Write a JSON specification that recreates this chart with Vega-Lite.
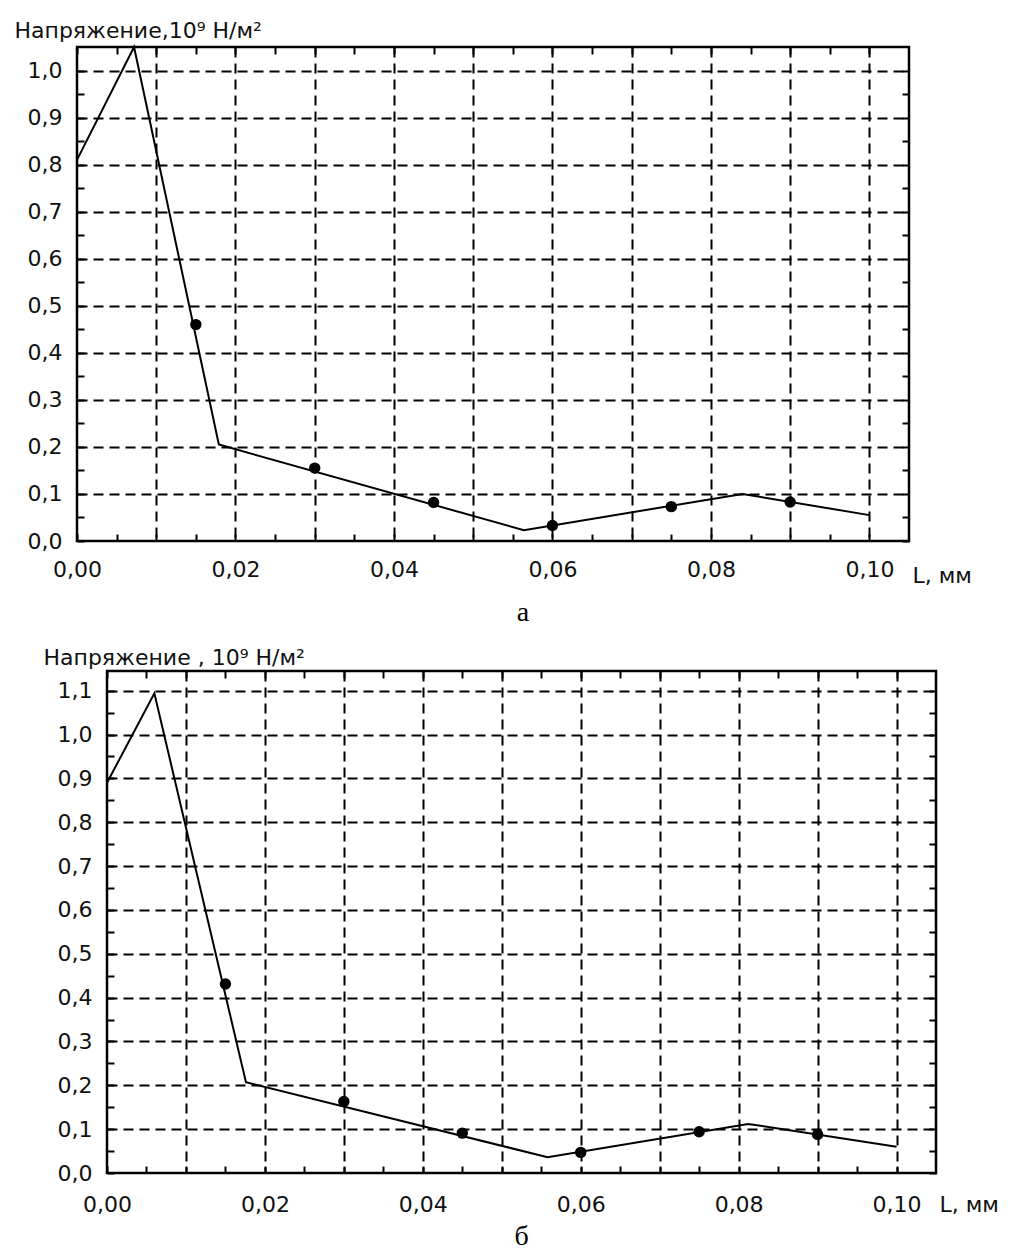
{
  "$schema": "https://vega.github.io/schema/vega-lite/v6.json",
  "padding": {"left": 11, "top": 17, "right": 0, "bottom": 0},
  "background": "white",
  "config": {
    "view": {"stroke": "black", "strokeWidth": 2.5},
    "font": "DejaVu Sans"
  },
  "datasets": {
    "a_line": [
      {"L": 0, "S": 0.81},
      {"L": 0.0072, "S": 1.05},
      {"L": 0.0179, "S": 0.205},
      {"L": 0.0564, "S": 0.023},
      {"L": 0.084, "S": 0.1},
      {"L": 0.1, "S": 0.055}
    ],
    "a_pts": [
      {"L": 0.015, "S": 0.46},
      {"L": 0.03, "S": 0.155},
      {"L": 0.045, "S": 0.082},
      {"L": 0.06, "S": 0.033},
      {"L": 0.075, "S": 0.073},
      {"L": 0.09, "S": 0.083}
    ],
    "b_line": [
      {"L": 0, "S": 0.89},
      {"L": 0.006, "S": 1.094},
      {"L": 0.0176, "S": 0.207},
      {"L": 0.0558, "S": 0.036},
      {"L": 0.0812, "S": 0.112},
      {"L": 0.1, "S": 0.06}
    ],
    "b_pts": [
      {"L": 0.015, "S": 0.431},
      {"L": 0.03, "S": 0.163},
      {"L": 0.045, "S": 0.091},
      {"L": 0.06, "S": 0.047},
      {"L": 0.075, "S": 0.094},
      {"L": 0.09, "S": 0.088}
    ]
  },
  "spacing": 15,
  "vconcat": [
    {
      "spacing": 0,
      "hconcat": [
        {
          "width": 1,
          "height": 10,
          "view": {"stroke": null},
          "data": {"values": []},
          "mark": "point"
        },
        {
          "width": 832,
          "height": 494,
          "title": {"text": "а", "orient": "bottom", "anchor": "middle", "dx": 30, "offset": 13, "font": "Liberation Serif", "fontSize": 28, "fontWeight": "normal", "color": "black"},
          "resolve": {"axis": {"x": "independent", "y": "independent"}},
          "layer": [
            {
              "data": {"name": "a_line"},
              "mark": {"type": "line", "color": "black", "strokeWidth": 2},
              "encoding": {
                "x": {"field": "L", "type": "quantitative",
                  "scale": {"domain": [0, 0.105], "nice": false, "zero": false},
                  "axis": {"orient": "bottom", "values": [0,0.005,0.01,0.015,0.02,0.025,0.03,0.035,0.04,0.045,0.05,0.055,0.06,0.065,0.07,0.075,0.08,0.085,0.09,0.095,0.1],
                    "domain": false, "grid": true, "gridColor": "black", "gridWidth": 2, "gridDash": [10, 6],
                    "gridOpacity": {"condition": {"test": "round(datum.value*200) % 2 == 0 && datum.value > 0", "value": 1}, "value": 0},
                    "ticks": true, "tickColor": "black", "tickWidth": 2, "tickSize": -7,
                    "labelExpr": "round(datum.value*1000) % 20 == 0 ? replace(format(datum.value, '.2f'), '.', ',') : ''",
                    "labelFont": "DejaVu Sans", "labelFontSize": 22, "labelColor": "#111", "labelPadding": 25,
                    "labelFlush": false, "labelOverlap": false, "labelBound": false,
                    "title": "L, мм", "titleX": 835, "titleY": 41, "titleAlign": "left", "titleBaseline": "alphabetic",
                    "titleFont": "DejaVu Sans", "titleFontSize": 22, "titleFontWeight": "normal", "titleColor": "#111"}},
                "y": {"field": "S", "type": "quantitative",
                  "scale": {"domain": [0, 1.05], "nice": false, "zero": false},
                  "axis": {"orient": "left", "values": [0,0.05,0.1,0.15,0.2,0.25,0.3,0.35,0.4,0.45,0.5,0.55,0.6,0.65,0.7,0.75,0.8,0.85,0.9,0.95,1.0],
                    "domain": false, "grid": true, "gridColor": "black", "gridWidth": 2, "gridDash": [10, 6],
                    "gridOpacity": {"condition": {"test": "round(datum.value*20) % 2 == 0 && datum.value > 0", "value": 1}, "value": 0},
                    "ticks": true, "tickColor": "black", "tickWidth": 2, "tickSize": -7,
                    "labelExpr": "round(datum.value*100) % 10 == 0 ? replace(format(datum.value, '.1f'), '.', ',') : ''",
                    "labelFont": "DejaVu Sans", "labelFontSize": 22, "labelColor": "#111", "labelPadding": 22,
                    "labelFlush": false, "labelOverlap": false, "labelBound": false,
                    "title": "Напряжение,10⁹ Н/м²", "titleAngle": 0, "titleX": -63, "titleY": -10, "titleAlign": "left", "titleBaseline": "alphabetic",
                    "titleFont": "DejaVu Sans", "titleFontSize": 22, "titleFontWeight": "normal", "titleColor": "#111"}}
              }
            },
            {
              "data": {"name": "a_pts"},
              "mark": {"type": "circle", "color": "black", "size": 130, "opacity": 1},
              "encoding": {
                "x": {"field": "L", "type": "quantitative",
                  "scale": {"domain": [0, 0.105], "nice": false, "zero": false},
                  "axis": {"orient": "top", "values": [0,0.005,0.01,0.015,0.02,0.025,0.03,0.035,0.04,0.045,0.05,0.055,0.06,0.065,0.07,0.075,0.08,0.085,0.09,0.095,0.1],
                    "domain": false, "grid": false, "labels": false, "title": null,
                    "ticks": true, "tickColor": "black", "tickWidth": 2, "tickSize": -7}},
                "y": {"field": "S", "type": "quantitative",
                  "scale": {"domain": [0, 1.05], "nice": false, "zero": false},
                  "axis": {"orient": "right", "values": [0,0.05,0.1,0.15,0.2,0.25,0.3,0.35,0.4,0.45,0.5,0.55,0.6,0.65,0.7,0.75,0.8,0.85,0.9,0.95,1.0],
                    "domain": false, "grid": false, "labels": false, "title": null,
                    "ticks": true, "tickColor": "black", "tickWidth": 2, "tickSize": -7}}
              }
            }
          ]
        }
      ]
    },
    {
      "spacing": 0,
      "hconcat": [
        {
          "width": 30,
          "height": 10,
          "view": {"stroke": null},
          "data": {"values": []},
          "mark": "point"
        },
        {
          "width": 829,
          "height": 502,
          "title": {"text": "б", "orient": "bottom", "anchor": "middle", "dx": 0, "offset": 8, "font": "Liberation Serif", "fontSize": 28, "fontWeight": "normal", "color": "black"},
          "resolve": {"axis": {"x": "independent", "y": "independent"}},
          "layer": [
            {
              "data": {"name": "b_line"},
              "mark": {"type": "line", "color": "black", "strokeWidth": 2},
              "encoding": {
                "x": {"field": "L", "type": "quantitative",
                  "scale": {"domain": [0, 0.105], "nice": false, "zero": false},
                  "axis": {"orient": "bottom", "values": [0,0.005,0.01,0.015,0.02,0.025,0.03,0.035,0.04,0.045,0.05,0.055,0.06,0.065,0.07,0.075,0.08,0.085,0.09,0.095,0.1],
                    "domain": false, "grid": true, "gridColor": "black", "gridWidth": 2, "gridDash": [10, 6],
                    "gridOpacity": {"condition": {"test": "round(datum.value*200) % 2 == 0 && datum.value > 0", "value": 1}, "value": 0},
                    "ticks": true, "tickColor": "black", "tickWidth": 2, "tickSize": -7,
                    "labelExpr": "round(datum.value*1000) % 20 == 0 ? replace(format(datum.value, '.2f'), '.', ',') : ''",
                    "labelFont": "DejaVu Sans", "labelFontSize": 22, "labelColor": "#111", "labelPadding": 28,
                    "labelFlush": false, "labelOverlap": false, "labelBound": false,
                    "title": "L, мм", "titleX": 832, "titleY": 38, "titleAlign": "left", "titleBaseline": "alphabetic",
                    "titleFont": "DejaVu Sans", "titleFontSize": 22, "titleFontWeight": "normal", "titleColor": "#111"}},
                "y": {"field": "S", "type": "quantitative",
                  "scale": {"domain": [0, 1.145], "nice": false, "zero": false},
                  "axis": {"orient": "left", "values": [0,0.05,0.1,0.15,0.2,0.25,0.3,0.35,0.4,0.45,0.5,0.55,0.6,0.65,0.7,0.75,0.8,0.85,0.9,0.95,1.0,1.05,1.1],
                    "domain": false, "grid": true, "gridColor": "black", "gridWidth": 2, "gridDash": [10, 6],
                    "gridOpacity": {"condition": {"test": "round(datum.value*20) % 2 == 0 && datum.value > 0", "value": 1}, "value": 0},
                    "ticks": true, "tickColor": "black", "tickWidth": 2, "tickSize": -7,
                    "labelExpr": "round(datum.value*100) % 10 == 0 ? replace(format(datum.value, '.1f'), '.', ',') : ''",
                    "labelFont": "DejaVu Sans", "labelFontSize": 22, "labelColor": "#111", "labelPadding": 22,
                    "labelFlush": false, "labelOverlap": false, "labelBound": false,
                    "title": "Напряжение , 10⁹ Н/м²", "titleAngle": 0, "titleX": -64, "titleY": -7, "titleAlign": "left", "titleBaseline": "alphabetic",
                    "titleFont": "DejaVu Sans", "titleFontSize": 22, "titleFontWeight": "normal", "titleColor": "#111"}}
              }
            },
            {
              "data": {"name": "b_pts"},
              "mark": {"type": "circle", "color": "black", "size": 130, "opacity": 1},
              "encoding": {
                "x": {"field": "L", "type": "quantitative",
                  "scale": {"domain": [0, 0.105], "nice": false, "zero": false},
                  "axis": {"orient": "top", "values": [0,0.005,0.01,0.015,0.02,0.025,0.03,0.035,0.04,0.045,0.05,0.055,0.06,0.065,0.07,0.075,0.08,0.085,0.09,0.095,0.1],
                    "domain": false, "grid": false, "labels": false, "title": null,
                    "ticks": true, "tickColor": "black", "tickWidth": 2, "tickSize": -7}},
                "y": {"field": "S", "type": "quantitative",
                  "scale": {"domain": [0, 1.145], "nice": false, "zero": false},
                  "axis": {"orient": "right", "values": [0,0.05,0.1,0.15,0.2,0.25,0.3,0.35,0.4,0.45,0.5,0.55,0.6,0.65,0.7,0.75,0.8,0.85,0.9,0.95,1.0,1.05,1.1],
                    "domain": false, "grid": false, "labels": false, "title": null,
                    "ticks": true, "tickColor": "black", "tickWidth": 2, "tickSize": -7}}
              }
            }
          ]
        }
      ]
    }
  ]
}
